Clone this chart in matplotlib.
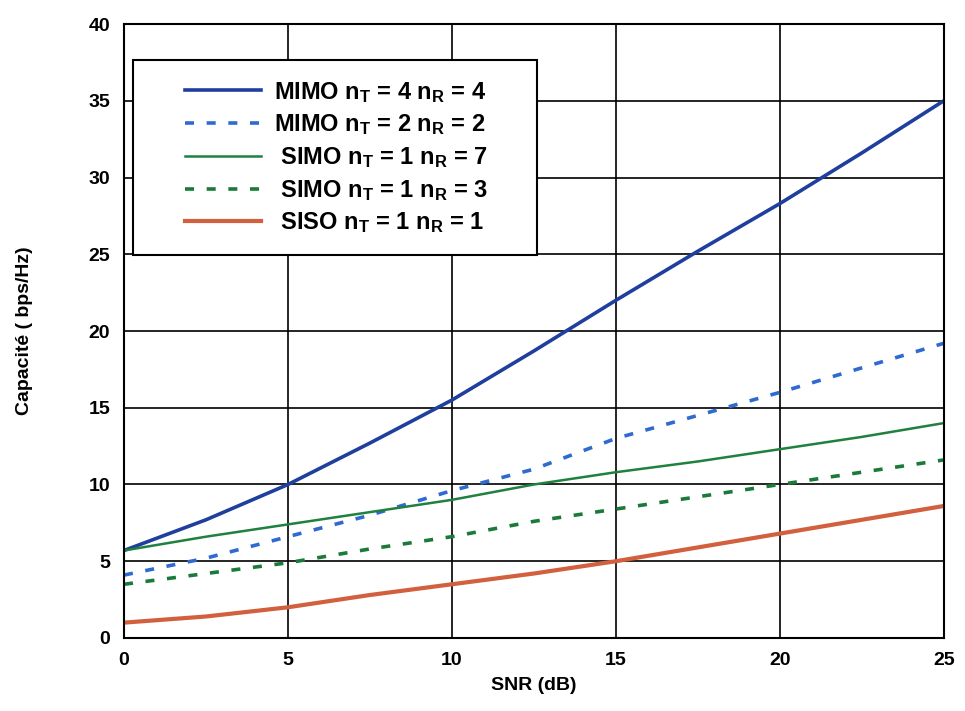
import matplotlib.pyplot as plt
from matplotlib.patches import Rectangle

plt.rcParams['font.family'] = ['Liberation Sans Narrow', 'Liberation Sans', 'DejaVu Sans']
plt.rcParams['font.weight'] = 'bold'
plt.rcParams['mathtext.fontset'] = 'custom'
plt.rcParams['mathtext.rm'] = 'Liberation Sans:bold'
plt.rcParams['mathtext.it'] = 'Liberation Sans:bold'
plt.rcParams['mathtext.bf'] = 'Liberation Sans:bold'

# SNR (dB)
snr = [0, 2.5, 5, 7.5, 10, 12.5, 15, 17.5, 20, 22.5, 25]

# capacity (bps/Hz)
mimo_44 = [5.7, 7.7, 10.0, 12.7, 15.5, 18.7, 22.0, 25.2, 28.3, 31.6, 35.0]
mimo_22 = [4.1, 5.2, 6.6, 8.0, 9.6, 11.0, 13.0, 14.5, 16.0, 17.6, 19.2]
simo_17 = [5.7, 6.6, 7.4, 8.2, 9.0, 10.0, 10.8, 11.5, 12.3, 13.1, 14.0]
simo_13 = [3.5, 4.2, 4.9, 5.8, 6.6, 7.6, 8.4, 9.2, 10.0, 10.8, 11.6]
siso_11 = [1.0, 1.4, 2.0, 2.8, 3.5, 4.2, 5.0, 5.9, 6.8, 7.7, 8.6]

labels = [
    'MIMO n$_{\\rm T}$ = 4 n$_{\\rm R}$ = 4',
    'MIMO n$_{\\rm T}$ = 2 n$_{\\rm R}$ = 2',
    ' SIMO n$_{\\rm T}$ = 1 n$_{\\rm R}$ = 7',
    ' SIMO n$_{\\rm T}$ = 1 n$_{\\rm R}$ = 3',
    ' SISO n$_{\\rm T}$ = 1 n$_{\\rm R}$ = 1',
]

fig = plt.figure(figsize=(9.65, 7.11), dpi=100)
ax = fig.add_axes([0.1285, 0.1027, 0.8495, 0.8635])

ax.plot(snr, mimo_44, color='#1f3f9e', lw=2.6, label=labels[0])
ax.plot(snr, mimo_22, color='#2f6ad0', lw=2.6, dashes=(2.5, 3.5), label=labels[1])
ax.plot(snr, simo_17, color='#1f8040', lw=1.8, label=labels[2])
ax.plot(snr, simo_13, color='#1a7a3a', lw=2.6, dashes=(2.5, 3.5), label=labels[3])
ax.plot(snr, siso_11, color='#d2603e', lw=3.0, label=labels[4])

ax.set_xlim(0, 25)
ax.set_ylim(0, 40)
ax.set_xticks(range(0, 26, 5))
ax.set_yticks(range(0, 41, 5))
ax.grid(True, color='black', lw=1.2)
for s in ax.spines.values():
    s.set_linewidth(1.5)
ax.tick_params(length=0, labelsize=14, pad=10)
ax.set_xlabel('SNR (dB)', fontsize=14, fontweight='bold', labelpad=6)
ax.set_ylabel('Capacité ( bps/Hz)', fontsize=14, fontweight='bold', labelpad=40)

# legend box drawn separately so its padding matches the original
box = Rectangle((0.011, 0.624), 0.493, 0.317, transform=ax.transAxes,
                facecolor='white', edgecolor='black', lw=1.5, zorder=4)
ax.add_patch(box)
leg = ax.legend(loc='center', bbox_to_anchor=(0.259, 0.7825), fontsize=17,
                handlelength=3.2, frameon=False, borderpad=0,
                labelspacing=0.33, handletextpad=0.55, borderaxespad=0)
leg.set_zorder(5)

fig.savefig('out.png', dpi=100)
